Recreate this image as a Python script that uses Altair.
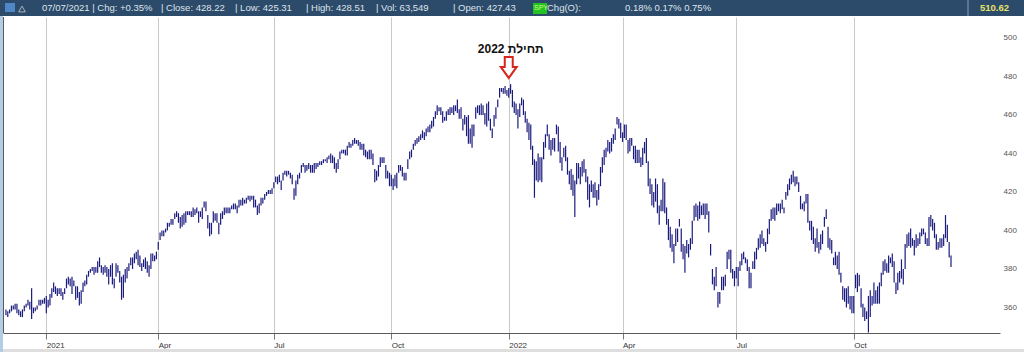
import altair as alt
import pandas as pd

# ---------------- data (SPY daily bars) ----------------
HOLIDAYS = ["2020-12-25", "2021-01-01", "2021-01-18", "2021-02-15", "2021-04-02",
            "2021-05-31", "2021-07-05", "2021-09-06", "2021-11-25", "2021-12-24",
            "2022-01-17", "2022-02-21", "2022-04-15", "2022-05-30", "2022-06-20",
            "2022-07-04", "2022-09-05", "2022-11-24"]

LOW = [
    356, 355, 357, 358, 359, 359, 357, 356, 355, 355, 358, 360, 361, 359, 354, 357, 358, 359, 361, 361, 362, 362,
    357, 360, 361, 365, 368, 367, 366, 367, 366, 364, 367, 370, 372, 371, 367, 371, 364, 365, 361,
    362, 368, 371, 372, 376, 378, 379, 377, 378, 378, 381, 378, 377, 378, 376, 372, 376, 372, 370,
    376, 378, 373, 364, 365, 373, 375, 379, 382, 380, 383, 385, 382, 381, 379, 381, 380, 378, 376, 380, 384, 384, 385,
    390, 395, 397, 397, 399, 400, 402, 403, 403, 406, 407, 404, 401, 402, 403, 404, 408, 408, 407, 407, 408,
    409, 404, 407, 406, 412, 410, 401, 397, 398, 404, 405, 404, 398, 403, 406, 408, 409, 409, 409, 411,
    411, 411, 409, 412, 413, 413, 414, 414, 416, 415, 416, 412, 412, 408, 409, 413, 414, 416, 418, 419, 419, 419,
    422, 425, 424, 425, 421, 426, 429, 428, 429, 427, 424, 416, 418, 424, 427, 430, 433, 430, 431, 432, 430,
    430, 430, 432, 433, 434, 434, 435, 436, 435, 437, 435, 435, 432, 430, 432, 437, 440, 440, 439, 439, 443, 443,
    444, 445, 445, 444, 442, 442, 439, 438, 437, 437, 437, 434, 425, 426, 428, 433, 435, 435, 427, 427, 423,
    423, 421, 423, 422, 430, 431, 428, 426, 426, 432, 437, 438, 442, 444, 445, 446, 447, 448, 447, 449, 451,
    451, 453, 454, 458, 460, 462, 460, 456, 457, 457, 460, 460, 461, 460, 462, 461, 458, 458, 452, 455, 449,
    445, 445, 443, 449, 458, 461, 460, 460, 460, 455, 454, 457, 452, 448, 454, 458, 464, 469, 472, 471, 471, 470,
    469, 471, 464, 461, 460, 453, 459, 465, 460, 456, 451, 447, 442, 434, 417, 426, 425, 426, 425, 437,
    443, 449, 442, 439, 442, 441, 450, 441, 435, 431, 438, 436, 429, 424, 421, 418, 407, 424, 427,
    424, 428, 430, 425, 416, 412, 420, 417, 417, 413, 416, 423, 430, 434, 438, 441, 440, 441, 445, 447, 455, 453, 448,
    446, 448, 447, 440, 441, 444, 437, 435, 435, 435, 433, 434, 440, 435, 423, 419, 413, 412, 415, 409,
    403, 410, 410, 409, 403, 395, 391, 389, 383, 392, 394, 402, 389, 385, 378, 388, 386, 390, 393, 405, 407,
    405, 406, 408, 408, 406, 408, 399, 387, 372, 369, 371, 360, 362, 369, 369, 371, 380, 385, 378, 375, 371,
    375, 371, 379, 382, 385, 383, 379, 370, 370, 380, 380, 385, 390, 391, 393, 392, 389, 393, 398, 405,
    406, 405, 408, 410, 409, 411, 409, 416, 418, 421, 424, 425, 423, 424, 420, 411, 411, 410, 414, 404, 400, 395, 393,
    389, 391, 388, 390, 393, 402, 406, 391, 390, 388, 382, 382, 380, 377, 373, 364, 363, 360, 362, 359, 357,
    357, 370, 368, 371, 360, 355, 353, 354, 347, 355, 361, 362, 362, 362, 362, 371, 377, 379, 378, 378, 383,
    381, 373, 367, 369, 373, 375, 372, 380, 391, 392, 391, 392, 387, 391, 392, 393, 397, 398, 393, 392, 392,
    402, 400, 396, 390, 390, 391, 391, 392, 396, 394, 386, 381,
]

HIGH = [
    359, 358, 359, 361, 361, 362, 362, 359, 358, 359, 361, 362, 364, 363, 370, 360, 360, 361, 364, 364, 364, 365,
    366, 364, 367, 370, 373, 371, 370, 370, 370, 368, 370, 375, 376, 375, 376, 374, 371, 371, 368,
    369, 373, 374, 377, 379, 380, 381, 381, 381, 384, 386, 382, 381, 382, 381, 380, 382, 383, 375,
    383, 382, 379, 376, 377, 380, 381, 383, 386, 386, 388, 389, 390, 387, 383, 385, 386, 384, 382, 388, 388, 387, 389,
    394, 399, 400, 400, 401, 404, 404, 406, 406, 409, 410, 409, 407, 408, 409, 410, 410, 410, 410, 412, 411,
    412, 410, 410, 412, 415, 415, 408, 404, 404, 410, 409, 409, 404, 409, 410, 412, 412, 412, 412, 413,
    414, 414, 413, 416, 416, 417, 416, 417, 418, 418, 418, 418, 416, 413, 414, 417, 417, 419, 420, 421, 421, 422,
    425, 428, 428, 429, 426, 430, 431, 431, 431, 430, 429, 422, 426, 429, 430, 434, 435, 434, 434, 435, 434,
    434, 435, 435, 435, 436, 436, 437, 437, 438, 439, 440, 439, 438, 435, 437, 441, 442, 442, 442, 444, 446, 445,
    447, 448, 447, 447, 446, 445, 445, 442, 441, 442, 442, 440, 432, 431, 434, 438, 438, 438, 434, 431, 430,
    429, 427, 429, 430, 434, 434, 433, 430, 430, 437, 441, 442, 445, 447, 448, 449, 450, 452, 451, 453, 454,
    455, 457, 459, 462, 465, 464, 464, 462, 459, 462, 463, 464, 464, 465, 465, 468, 463, 464, 458, 460, 459,
    460, 453, 455, 455, 464, 465, 465, 466, 465, 461, 466, 467, 458, 453, 460, 464, 468, 474, 474, 474, 475, 473,
    474, 476, 473, 467, 466, 463, 466, 469, 468, 462, 458, 456, 455, 444, 437, 436, 440, 438, 438, 446,
    450, 455, 450, 447, 448, 448, 455, 454, 446, 438, 443, 444, 438, 431, 432, 429, 426, 435, 435,
    433, 436, 437, 432, 428, 424, 426, 424, 425, 421, 424, 433, 438, 442, 443, 447, 446, 448, 450, 453, 459, 458, 456,
    451, 455, 455, 447, 448, 448, 444, 444, 442, 442, 438, 443, 446, 448, 436, 427, 424, 420, 427, 424,
    413, 416, 427, 425, 412, 406, 402, 398, 393, 401, 401, 406, 401, 393, 392, 395, 393, 396, 405, 413, 414,
    413, 415, 413, 414, 414, 414, 410, 393, 380, 376, 381, 368, 368, 376, 376, 377, 389, 390, 390, 380, 379,
    381, 381, 384, 388, 389, 386, 385, 381, 378, 384, 389, 391, 396, 398, 400, 396, 394, 401, 406, 411,
    412, 412, 414, 414, 414, 416, 412, 420, 424, 427, 429, 431, 428, 428, 425, 418, 414, 415, 419, 419, 405, 405, 402,
    396, 401, 394, 398, 400, 407, 411, 402, 396, 395, 386, 389, 387, 389, 378, 371, 370, 370, 371, 366, 366,
    366, 377, 378, 377, 370, 362, 360, 358, 366, 369, 366, 373, 369, 371, 373, 378, 384, 385, 383, 387, 386,
    388, 384, 373, 378, 379, 385, 380, 393, 398, 399, 401, 396, 395, 398, 396, 399, 401, 401, 399, 396, 407,
    408, 406, 404, 398, 394, 396, 396, 398, 408, 403, 394, 387,
]

TICK_DATES = ["2021-01-01", "2021-04-01", "2021-07-01", "2021-10-01",
              "2022-01-01", "2022-04-01", "2022-07-01", "2022-10-01"]
TICK_LABELS = ["2021", "Apr", "Jul", "Oct", "2022", "Apr", "Jul", "Oct"]
Y_TICKS = [360, 380, 400, 420, 440, 460, 480, 500]

ANNOT_DATE = "2022-01-03"
ANNOT_TEXT = "תחילת 2022"
ANNOT_TEXT_PRICE = 494.3
ANNOT_ARROW_PRICE = 484.7

HEADER_ITEMS = [
    (42, "07/07/2021 | Chg: +0.35%"),
    (161, "| Close: 428.22"),
    (235, "| Low: 425.31"),
    (306, "| High: 428.51"),
    (376, "| Vol: 63,549"),
    (453, "| Open: 427.43"),
    (547, "Chg(O):"),
    (625, "0.18% 0.17% 0.75%"),
]
HEADER_PRICE = "510.62"

# ---------------- layout ----------------
PAD_L, PAD_T, PAD_R, PAD_B = 3, 17, 24, 19
W, H = 1024 - PAD_L - PAD_R, 352 - PAD_T - PAD_B
FONT = "Liberation Sans"
NAVY = "#1b1b7e"

dates = pd.bdate_range("2020-12-01", "2022-12-31", freq="C", holidays=HOLIDAYS)
n = min(len(LOW), len(HIGH), len(dates))
df = pd.DataFrame({"i": list(range(n)), "date": dates[:n], "low": LOW[:n], "high": HIGH[:n]})

tick_idx = [int(dates.searchsorted(pd.Timestamp(d))) for d in TICK_DATES]
label_expr = " : ".join(f"datum.value == {i} ? '{l}'" for i, l in zip(tick_idx, TICK_LABELS)) + " : ''"
annot_i = int(dates.searchsorted(pd.Timestamp(ANNOT_DATE)))

xs = alt.Scale(domain=[-1.6, 541.7], nice=False, zero=False)
ys = alt.Scale(domain=[346.75, 510.9], nice=False, zero=False)

one = pd.DataFrame({"k": [0]})

bars = alt.Chart(df).mark_rule(color=NAVY, strokeWidth=1.2).encode(
    x=alt.X("i:Q", scale=xs, axis=alt.Axis(
        values=tick_idx, labelExpr=label_expr, title=None, grid=True,
        gridColor="#c9c9c9", gridWidth=1, domainColor="#5a5a5a", domainWidth=1,
        tickColor="#777777", tickSize=6, labelAlign="left", labelBaseline="top",
        labelPadding=2, labelFontSize=8, labelColor="#333333", labelFont=FONT,
        labelFlush=False, labelOverlap=False)),
    y=alt.Y("low:Q", scale=ys, axis=alt.Axis(
        orient="right", values=Y_TICKS, title=None, grid=False, ticks=False,
        domain=False, labelFontSize=8, labelColor="#555555", labelFont=FONT,
        labelPadding=3)),
    y2="high:Q",
)

# header bar and decorations (pixel positions relative to the plot origin)
header = alt.Chart(one).mark_rect(color="#2c4a6a").encode(
    x=alt.value(-PAD_L), x2=alt.value(W + PAD_R), y=alt.value(-PAD_T), y2=alt.value(-1))
sep = alt.Chart(one).mark_rule(color="#8aa0b8", strokeWidth=1).encode(
    x=alt.value(968 - PAD_L), y=alt.value(-PAD_T), y2=alt.value(-1))
left_strip = alt.Chart(one).mark_rect(color="#b3cde6").encode(
    x=alt.value(-PAD_L), x2=alt.value(0), y=alt.value(-1), y2=alt.value(H + PAD_B))
left_border = alt.Chart(one).mark_rule(color="#5a5a5a", strokeWidth=1).encode(
    x=alt.value(0.5), y=alt.value(0), y2=alt.value(H))
bottom_strip = alt.Chart(one).mark_rect(color="#dedede").encode(
    x=alt.value(0), x2=alt.value(W + PAD_R), y=alt.value(H + 16), y2=alt.value(H + PAD_B))
icon1 = alt.Chart(one).mark_rect(color="#4f86c6").encode(
    x=alt.value(5 - PAD_L), x2=alt.value(15 - PAD_L), y=alt.value(3 - PAD_T), y2=alt.value(12 - PAD_T))
icon2 = alt.Chart(one).mark_point(shape="triangle-up", filled=False, color="#e0e0e0", size=45, strokeWidth=1).encode(
    x=alt.value(22 - PAD_L), y=alt.value(9 - PAD_T))
spy_box = alt.Chart(one).mark_rect(color="#22c322").encode(
    x=alt.value(533 - PAD_L), x2=alt.value(547 - PAD_L), y=alt.value(3 - PAD_T), y2=alt.value(14 - PAD_T))
spy_txt = alt.Chart(one).mark_text(text="SPY", font=FONT, fontSize=7, color="#d6ff7a", align="left", baseline="middle").encode(
    x=alt.value(534 - PAD_L), y=alt.value(8 - PAD_T))

header_texts = [
    alt.Chart(one).mark_text(text=t, font=FONT, fontSize=9.5, color="#dfe5ec", align="left", baseline="middle").encode(
        x=alt.value(px - PAD_L), y=alt.value(8 - PAD_T))
    for px, t in HEADER_ITEMS
]
price_txt = alt.Chart(one).mark_text(text=HEADER_PRICE, font=FONT, fontSize=9.5, fontWeight="bold",
                                     color="#e8e26a", align="left", baseline="middle").encode(
    x=alt.value(980 - PAD_L), y=alt.value(8 - PAD_T))

annot_df = pd.DataFrame({"i": [annot_i], "tp": [ANNOT_TEXT_PRICE], "ap": [ANNOT_ARROW_PRICE], "t": [ANNOT_TEXT]})
annot_text = alt.Chart(annot_df).mark_text(font=FONT, fontSize=12, fontWeight="bold", color="#111111",
                                           align="center", baseline="middle", dx=2).encode(
    x=alt.X("i:Q", scale=xs), y=alt.Y("tp:Q", scale=ys), text="t:N")
ARROW = "M -0.38 -1 L 0.38 -1 L 0.38 -0.05 L 0.76 -0.05 L 0 1 L -0.76 -0.05 L -0.38 -0.05 Z"
annot_arrow = alt.Chart(annot_df).mark_point(shape=ARROW, size=441, fill="white", fillOpacity=1,
                                             stroke="#d7261e", strokeWidth=2, strokeOpacity=1).encode(
    x=alt.X("i:Q", scale=xs), y=alt.Y("ap:Q", scale=ys))

chart = alt.layer(
    left_strip, bottom_strip, bars, left_border, header, sep, icon1, icon2, spy_box, spy_txt,
    *header_texts, price_txt, annot_arrow, annot_text,
).properties(
    width=W, height=H, background="white",
    autosize=alt.AutoSizeParams(type="none"),
    padding={"left": PAD_L, "top": PAD_T, "right": PAD_R, "bottom": PAD_B},
).configure_view(stroke="transparent")

chart.save("out.html", embed_options={"renderer": "svg", "actions": False})
